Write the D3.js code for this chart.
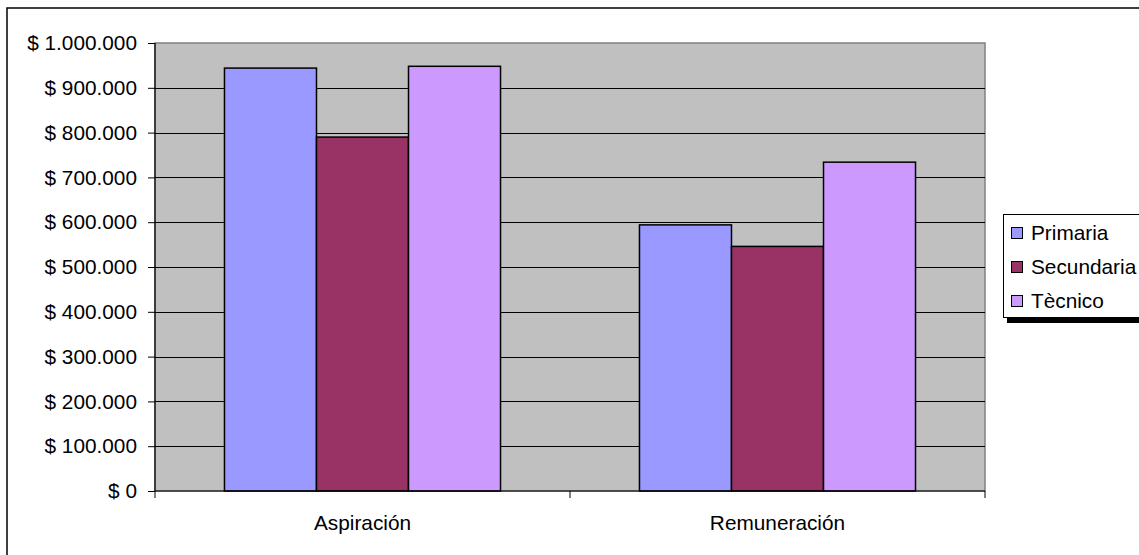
<!DOCTYPE html>
<html><head><meta charset="utf-8">
<script src="https://cdn.jsdelivr.net/npm/d3@7"></script>
<style>body{margin:0;background:#fff;}svg{display:block;font-family:"Liberation Sans",Arial,sans-serif;}</style>
</head><body>
<svg id="c" width="1139" height="555"></svg>
<script>
const categories = ["Aspiración", "Remuneración"];
const seriesNames = ["Primaria", "Secundaria", "Tècnico"];
const primaria = [944000, 594000];
const secundaria = [790000, 546000];
const tecnico = [948000, 734000];
const yTicks = [0,100000,200000,300000,400000,500000,600000,700000,800000,900000,1000000];
const colors = ["#9999FF", "#993366", "#CC99FF"];

const series = [primaria, secundaria, tecnico];
const svg = d3.select("#c");
const fs = 20.8;
const L = 155, R = 985, T = 43, B = 491;

// outer border
svg.append("rect").attr("x",7).attr("y",8).attr("width",1140).attr("height",560)
  .attr("fill","#fff").attr("stroke","#000").attr("stroke-width",1.5);

const y = d3.scaleLinear().domain([0,1000000]).range([B,T]);
const x0 = d3.scaleBand().domain(categories).range([L,R]).paddingInner(0).paddingOuter(0);
const x1 = d3.scaleBand().domain(seriesNames).range([0,x0.bandwidth()]).paddingInner(0).paddingOuter(0.755);

// plot area
svg.append("rect").attr("x",L).attr("y",T).attr("width",R-L).attr("height",B-T)
  .attr("fill","#C0C0C0").attr("stroke","#808080").attr("stroke-width",1.5);

// gridlines
svg.append("g").selectAll("line").data(yTicks.filter(d=>d>0 && d<1000000)).join("line")
  .attr("x1",L).attr("x2",R).attr("y1",d=>Math.round(y(d))+0.5).attr("y2",d=>Math.round(y(d))+0.5)
  .attr("stroke","#000").attr("stroke-width",1);

// bars
const fmt = v => "$ " + d3.format(",")(v).replace(/,/g,".");
categories.forEach((c,i)=>{
  series.forEach((s,j)=>{
    svg.append("rect")
      .attr("x", x0(c)+x1(seriesNames[j]))
      .attr("y", y(s[i]))
      .attr("width", x1.bandwidth())
      .attr("height", y(0)-y(s[i]))
      .attr("fill", colors[j]).attr("stroke","#000").attr("stroke-width",1.5);
  });
});

// y axis
const yAxis = d3.axisLeft(y).tickValues(yTicks).tickSize(7).tickPadding(11).tickFormat(fmt);
const gy = svg.append("g").attr("transform",`translate(${L},0)`).call(yAxis);
gy.select(".domain").attr("stroke","#000").attr("stroke-width",1.2).attr("d",`M0,${T}V${B}`);
gy.selectAll(".tick line").attr("stroke","#000");
gy.selectAll("text").attr("font-size",fs).attr("font-family","Liberation Sans, Arial").attr("fill","#000");

// x axis
const gx = svg.append("g").attr("transform",`translate(0,${B})`);
gx.append("line").attr("x1",L).attr("x2",R).attr("y1",0).attr("y2",0).attr("stroke","#000").attr("stroke-width",1.2);
const bounds = [L].concat(categories.map(c=>x0(c)+x0.bandwidth()));
gx.selectAll(".tk").data(bounds).join("line").attr("x1",d=>d).attr("x2",d=>d).attr("y1",0).attr("y2",7).attr("stroke","#000");
gx.selectAll(".cl").data(categories).join("text")
  .attr("x",d=>x0(d)+x0.bandwidth()/2).attr("y",39).attr("text-anchor","middle")
  .attr("font-size",fs).attr("fill","#000").text(d=>d);

// legend
const lg = svg.append("g");
lg.append("rect").attr("x",1007).attr("y",219).attr("width",200).attr("height",104).attr("fill","#000");
lg.append("rect").attr("x",1003.5).attr("y",214.5).attr("width",200).attr("height",103).attr("fill","#fff").attr("stroke","#000").attr("stroke-width",1);
seriesNames.forEach((n,j)=>{
  const cy = 233 + j*34;
  lg.append("rect").attr("x",1011.5).attr("y",cy-5.5).attr("width",11).attr("height",11)
    .attr("fill",colors[j]).attr("stroke","#000").attr("stroke-width",1);
  lg.append("text").attr("x",1031).attr("y",cy+7).attr("font-size",fs).attr("fill","#000").text(n);
});
</script>
</body></html>
